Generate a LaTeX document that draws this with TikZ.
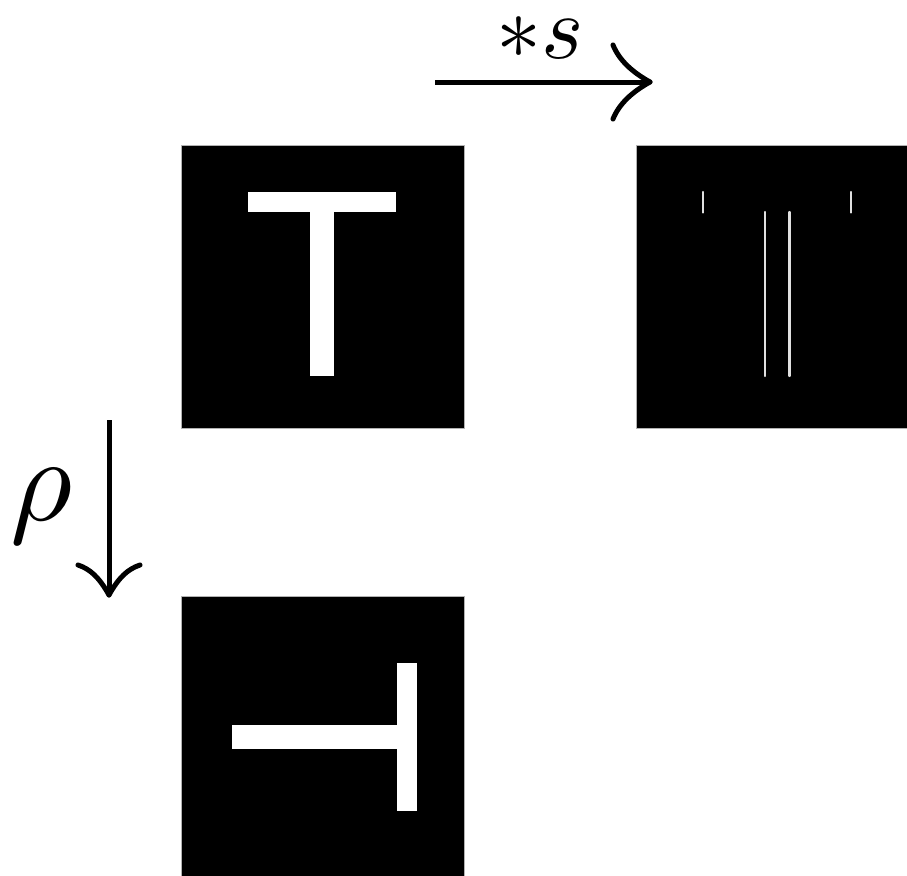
\documentclass[tikz,border=0pt]{standalone}
\begin{document}
\begin{tikzpicture}[x=1pt,y=-1pt,
  imgbox/.style={fill=black,draw=gray!60,line width=0.5pt,minimum size=283pt,inner sep=0pt,anchor=north west},
  glyph/.style={fill=white},
  edgeline/.style={draw=white!88!black,line width=2.3pt,line cap=round},
  shaft/.style={line width=5pt},
  barb/.style={line width=5pt,line cap=round}]
\useasboundingbox (0,0) rectangle (907,875);
\clip (0,0) rectangle (907,875);
\fill[white] (0,0) rectangle (907,875);
% images
\node[imgbox] (orig) at (181,145) {};
\node[imgbox] (conv) at (636,145) {};
\node[imgbox] (rot) at (181,596) {};
% T
\fill[glyph] (248.3,192.3) rectangle (395.7,212.3);
\fill[glyph] (310,212.3) rectangle (334.3,376.3);
% edges of T
\draw[edgeline] (703.3,192) -- (703.3,212.5);
\draw[edgeline] (850.7,192) -- (850.7,212.5);
\draw[edgeline] (765,212) -- (765,376);
\draw[edgeline] (789.5,212) -- (789.5,376);
% rotated T
\fill[glyph] (232.3,725) rectangle (396.7,749.3);
\fill[glyph] (396.7,663.3) rectangle (416.7,810.7);
% top arrow
\coordinate (a1) at (435,82);
\coordinate (a2) at (650,82);
\draw[shaft] (a1) -- ([xshift=-1pt]a2);
\draw[barb] (a2) .. controls (632,72) and (619,60) .. (613,45);
\draw[barb] (a2) .. controls (632,92) and (619,104) .. (613,119);
\node[anchor=base,inner sep=0pt,scale=9] (lbl) at (540,59) {$*s$};
% rho arrow
\coordinate (b1) at (109,420);
\coordinate (b2) at (109,595);
\draw[shaft] (b1) -- ([yshift=1pt]b2);
\draw[barb] (b2) .. controls (99,577) and (90,569) .. (78,565);
\draw[barb] (b2) .. controls (119,577) and (128,569) .. (140,565);
\node[anchor=base,inner sep=0pt,scale=12] (rho) at (42,520) {$\rho$};
\end{tikzpicture}
\end{document}
